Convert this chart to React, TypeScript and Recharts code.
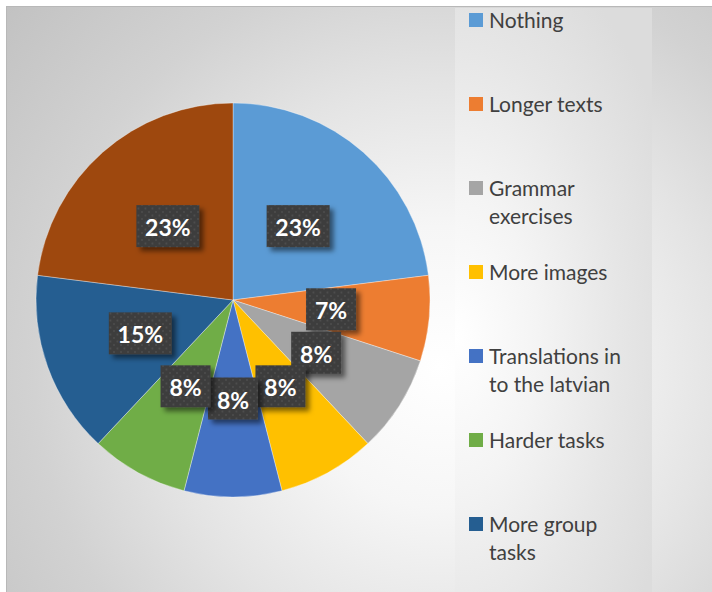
import React from 'react'
import { PieChart, Pie, Cell, Legend } from 'recharts'

// survey answers, share of respondents (%)
const CATEGORIES = [
  'Nothing',
  'Longer texts',
  'Grammar exercises',
  'More images',
  'Translations in to the latvian',
  'Harder tasks',
  'More group tasks',
  'Other',
]
const SHARES = [23, 7, 8, 8, 8, 8, 15, 23]
const COLORS = ['#5B9BD5', '#ED7D31', '#A5A5A5', '#FFC000', '#4472C4', '#70AD47', '#255E91', '#9E480E']

const data = CATEGORIES.map((name, i) => ({ name, value: SHARES[i], fill: COLORS[i] }))

const RAD = Math.PI / 180
const FONT = 'Lato, "Open Sans", sans-serif'
const LEGEND_STEP = 84
const LEGEND_H = 592

const renderLabel = (props: any) => {
  const { cx, cy, midAngle, outerRadius, percent, index } = props
  const r = outerRadius * 0.5
  const x = cx + r * Math.cos(-midAngle * RAD)
  const y = cy + r * Math.sin(-midAngle * RAD)
  const text = `${Math.round(percent * 100)}%`
  const w = text.length * 13 + 24
  const h = 42
  return (
    <g key={`lbl-${index}`}>
      <rect x={x - w / 2} y={y - h / 2} width={w} height={h} fill="url(#labelDots)" filter="url(#labelShadow)" />
      <text
        x={x}
        y={y + 1}
        fill="#fff"
        textAnchor="middle"
        dominantBaseline="central"
        fontFamily={FONT}
        fontWeight={700}
        fontSize={23}
      >
        {text}
      </text>
    </g>
  )
}

// the legend box is taller than the chart, so items that don't fit are clipped away
const renderLegend = () => (
  <div style={{ position: 'relative', width: 197, height: LEGEND_H, fontFamily: FONT, fontSize: 21, color: '#404040' }}>
    {CATEGORIES.map((name, i) => ({ name, i, top: 6 + i * LEGEND_STEP }))
      .filter(item => item.top + 28 <= LEGEND_H)
      .map(({ name, i, top }) => (
        <div key={name} style={{ position: 'absolute', left: 14, top, display: 'flex', lineHeight: '28px' }}>
          <span style={{ width: 14, height: 14, background: COLORS[i], marginTop: 7, marginRight: 6, flexShrink: 0 }} />
          <span style={{ width: 150 }}>{name}</span>
        </div>
      ))}
  </div>
)

export default function App() {
  return (
    <div style={{ position: 'fixed', left: 0, top: 0, width: 712, height: 592, overflow: 'hidden', background: '#fff' }}>
      <style>{`.recharts-pie-sectors { filter: url(#pieShadow); }`}</style>
      <svg width={0} height={0} style={{ position: 'absolute' }}>
        <defs>
          <pattern id="labelDots" width="7" height="7" patternUnits="userSpaceOnUse">
            <rect width="7" height="7" fill="#3e3e3e" />
            <circle cx="2" cy="2" r="0.9" fill="#4e4e4e" />
            <circle cx="5.5" cy="5.5" r="0.9" fill="#4e4e4e" />
          </pattern>
          <filter id="labelShadow" x="-30%" y="-30%" width="160%" height="170%">
            <feDropShadow dx="4" dy="4" stdDeviation="2.5" floodColor="#000" floodOpacity="0.5" />
          </filter>
          <filter id="pieShadow" x="-20%" y="-20%" width="140%" height="140%">
            <feDropShadow dx="0" dy="3" stdDeviation="9" floodColor="#000" floodOpacity="0.3" />
          </filter>
        </defs>
      </svg>
      <div
        style={{
          position: 'absolute',
          left: 6,
          top: 6,
          width: 720,
          height: 600,
          borderTop: '1px solid #b8b8b8',
          borderLeft: '1px solid #b8b8b8',
          background:
            'radial-gradient(circle at 60% 60%, #ffffff 0%, #f6f6f6 25%, #e4e4e4 50%, #d2d2d2 72%, #c2c2c2 100%)',
        }}
      />
      <div
        style={{
          position: 'absolute',
          left: 455,
          top: 8,
          width: 197,
          height: 600,
          background:
            'radial-gradient(ellipse 120% 70% at 0% 55%, #ffffff 0%, #f4f4f4 35%, #e6e6e6 70%, #dcdcdc 100%)',
        }}
      />
      <div style={{ position: 'absolute', left: 0, top: 0 }}>
        <PieChart width={712} height={592} margin={{ top: 0, right: 0, bottom: 0, left: 0 }}>
          <Pie
            data={data}
            dataKey="value"
            nameKey="name"
            cx={233}
            cy={300}
            outerRadius={197}
            startAngle={90}
            endAngle={-270}
            stroke="rgba(255,255,255,0.35)"
            strokeWidth={1}
            label={renderLabel}
            labelLine={false}
            isAnimationActive={false}
          >
            {data.map((d, i) => (
              <Cell key={d.name} fill={COLORS[i]} />
            ))}
          </Pie>
          <Legend
            layout="vertical"
            align="right"
            verticalAlign="top"
            content={renderLegend}
            wrapperStyle={{ left: 455, top: 0, right: 'auto', width: 197, height: LEGEND_H }}
          />
        </PieChart>
      </div>
    </div>
  )
}
